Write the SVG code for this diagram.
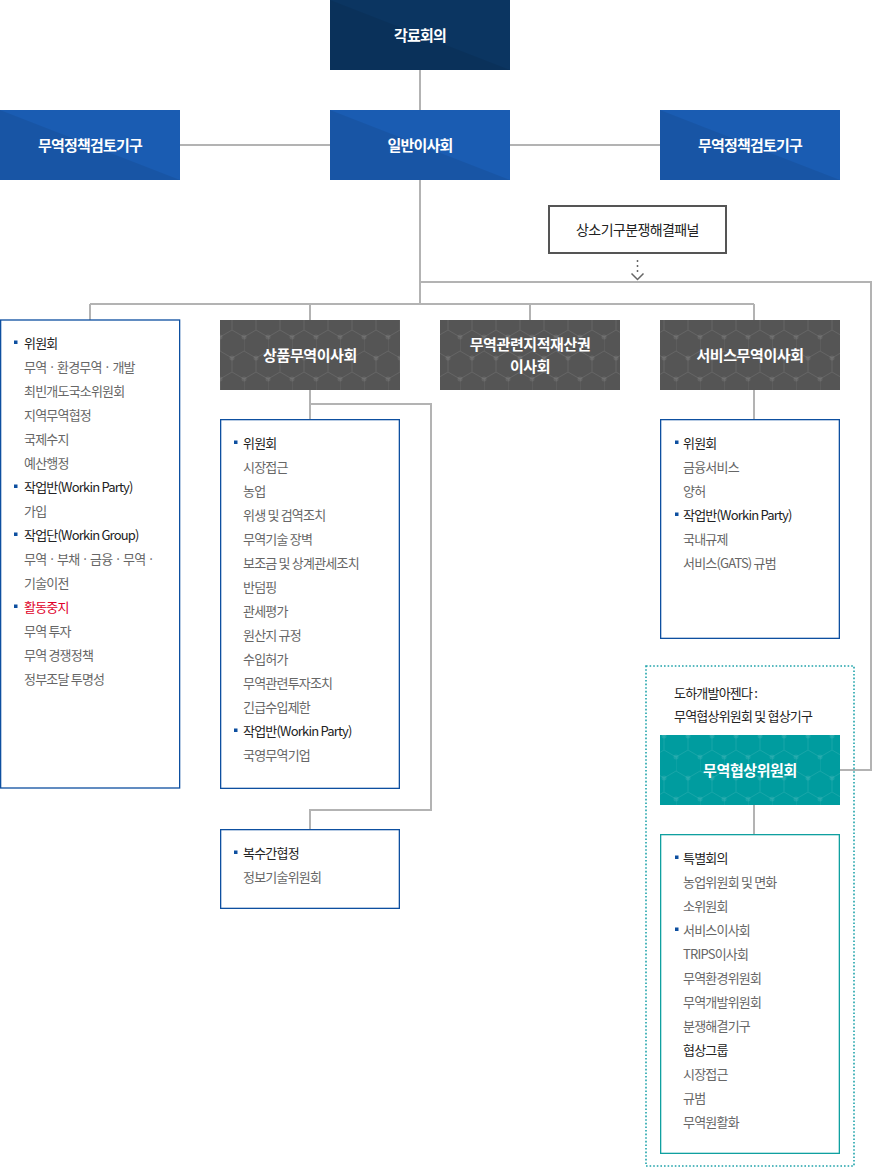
<svg xmlns="http://www.w3.org/2000/svg" width="872" height="1167" viewBox="0 0 872 1167">
<defs>
<pattern id="hex" width="24" height="42" patternUnits="userSpaceOnUse" x="4" y="-6">
<path d="M0,7 L12,0 L24,7 M0,7 V21 M0,21 L12,28 L24,21 M12,28 V42" fill="none" stroke="#ffffff" stroke-opacity="0.09" stroke-width="1"/>
<g fill="#ffffff" fill-opacity="0.09"><circle cx="0" cy="7" r="2.5"/><circle cx="12" cy="28" r="2.5"/><circle cx="24" cy="7" r="2.5"/></g>
</pattern>
<style>
.ln{fill:none;stroke:#b3b3b3;stroke-width:2}
.t{font-family:"Noto Sans CJK KR","Noto Sans",sans-serif;fill:#ffffff;font-size:15px;font-weight:700;text-anchor:middle;dominant-baseline:central;letter-spacing:-0.8px}
.it{font-family:"Noto Sans CJK KR","Noto Sans",sans-serif;font-size:13px;letter-spacing:-0.8px;dominant-baseline:central;fill:#666666}
.hd{fill:#222222}
.red{fill:#e0002a}
.blt{fill:#0d4fa0}
.lb{fill:#ffffff;stroke:#0d4fa0;stroke-width:1.3}
.tb{fill:#ffffff;stroke:#10a0a0;stroke-width:1.3}
.navy{fill:#0b3561}
.blue{fill:#1a5cb2}
.gray{fill:#555555}
.teal{fill:#009c9f}
.shade{fill:#000000;fill-opacity:0.07}
</style>
</defs>
<rect width="872" height="1167" fill="#ffffff"/>

<g id="connectors">
<path class="ln" d="M420,70 V110"/>
<path class="ln" d="M180,145 H330"/>
<path class="ln" d="M510,145 H660"/>
<path class="ln" d="M420,180 V304"/>
<path class="ln" d="M420,282 H871 V770 H840"/>
<path class="ln" d="M90,304 H754"/>
<path class="ln" d="M90,304 V320 M310,304 V320 M530,304 V320 M754,304 V320"/>
<path class="ln" d="M310,390 V419 M310,404 H431 V810 H310 V829"/>
<path class="ln" d="M754,390 V419"/>
<path class="ln" d="M754,805 V834"/>
<path d="M637.5,260 V273" fill="none" stroke="#666666" stroke-width="1.5" stroke-dasharray="2,3"/>
<path d="M631.5,273.5 L637.5,279.5 L643.5,273.5" fill="none" stroke="#666666" stroke-width="1.5"/>
</g>

<g id="n-ministerial">
<rect class="navy" x="330" y="0" width="180" height="70"/>
<polygon class="shade" points="330,0 510,70 330,70"/>
<text class="t" x="420" y="34.5">각료회의</text>
</g>

<g id="n-tprb-left">
<rect class="blue" x="0" y="110" width="180" height="70"/>
<polygon class="shade" points="0,110 180,180 0,180"/>
<text class="t" x="90" y="144.5">무역정책검토기구</text>
</g>

<g id="n-general-council">
<rect class="blue" x="330" y="110" width="180" height="70"/>
<polygon class="shade" points="330,110 510,180 330,180"/>
<text class="t" x="420" y="144.5">일반이사회</text>
</g>

<g id="n-tprb-right">
<rect class="blue" x="660" y="110" width="180" height="70"/>
<polygon class="shade" points="660,110 840,180 660,180"/>
<text class="t" x="750" y="144.5">무역정책검토기구</text>
</g>

<g id="n-appellate">
<rect x="549" y="206" width="177" height="47" fill="#ffffff" stroke="#555555" stroke-width="2"/>
<text class="t" x="637.5" y="229" style="fill:#222222;font-size:14px;font-weight:400;letter-spacing:-0.6px">상소기구분쟁해결패널</text>
</g>

<g id="n-left-list">
<rect class="lb" x="0.65" y="320" width="179" height="468"/>
<g class="blt"><rect x="14" y="340.5" width="3.5" height="3.5"/><rect x="14" y="484.5" width="3.5" height="3.5"/><rect x="14" y="532.5" width="3.5" height="3.5"/><rect x="14" y="604.5" width="3.5" height="3.5"/></g>
<text class="it hd" x="24" y="342">위원회</text>
<text class="it" x="24" y="366">무역 · 환경무역 · 개발</text>
<text class="it" x="24" y="390">최빈개도국소위원회</text>
<text class="it" x="24" y="414">지역무역협정</text>
<text class="it" x="24" y="438">국제수지</text>
<text class="it" x="24" y="462">예산행정</text>
<text class="it hd" x="24" y="486">작업반(Workin Party)</text>
<text class="it" x="24" y="510">가입</text>
<text class="it hd" x="24" y="534">작업단(Workin Group)</text>
<text class="it" x="24" y="558">무역 · 부채 · 금융 · 무역 ·</text>
<text class="it" x="24" y="582">기술이전</text>
<text class="it red" x="24" y="606">활동중지</text>
<text class="it" x="24" y="630">무역 투자</text>
<text class="it" x="24" y="654">무역 경쟁정책</text>
<text class="it" x="24" y="678">정부조달 투명성</text>
</g>

<g id="n-goods-council">
<rect class="gray" x="220" y="320" width="180" height="70"/>
<rect x="220" y="320" width="180" height="70" fill="url(#hex)"/>
<text class="t" x="310" y="354.5" style="letter-spacing:-0.4px">상품무역이사회</text>
</g>

<g id="n-trips-council">
<rect class="gray" x="440" y="320" width="180" height="70"/>
<rect x="440" y="320" width="180" height="70" fill="url(#hex)"/>
<text class="t" x="530" y="343" style="letter-spacing:-0.4px">무역관련지적재산권</text>
<text class="t" x="530" y="365" style="letter-spacing:-0.4px">이사회</text>
</g>

<g id="n-services-council">
<rect class="gray" x="660" y="320" width="180" height="70"/>
<rect x="660" y="320" width="180" height="70" fill="url(#hex)"/>
<text class="t" x="750" y="354.5" style="letter-spacing:-0.4px">서비스무역이사회</text>
</g>

<g id="n-goods-list">
<rect class="lb" x="220.65" y="419.65" width="178.7" height="368.7"/>
<g class="blt"><rect x="234" y="440.5" width="3.5" height="3.5"/><rect x="234" y="728.5" width="3.5" height="3.5"/></g>
<text class="it hd" x="243" y="442">위원회</text>
<text class="it" x="243" y="466">시장접근</text>
<text class="it" x="243" y="490">농업</text>
<text class="it" x="243" y="514">위생 및 검역조치</text>
<text class="it" x="243" y="538">무역기술 장벽</text>
<text class="it" x="243" y="562">보조금 및 상계관세조치</text>
<text class="it" x="243" y="586">반덤핑</text>
<text class="it" x="243" y="610">관세평가</text>
<text class="it" x="243" y="634">원산지 규정</text>
<text class="it" x="243" y="658">수입허가</text>
<text class="it" x="243" y="682">무역관련투자조치</text>
<text class="it" x="243" y="706">긴급수입제한</text>
<text class="it hd" x="243" y="730">작업반(Workin Party)</text>
<text class="it" x="243" y="754">국영무역기업</text>
</g>

<g id="n-plurilateral">
<rect class="lb" x="220.65" y="829.65" width="178.7" height="78.7"/>
<rect class="blt" x="234" y="850.5" width="3.5" height="3.5"/>
<text class="it hd" x="243" y="852">복수간협정</text>
<text class="it" x="243" y="876">정보기술위원회</text>
</g>

<g id="n-services-list">
<rect class="lb" x="660.65" y="419.65" width="178.7" height="218.7"/>
<g class="blt"><rect x="675" y="440.5" width="3.5" height="3.5"/><rect x="675" y="512.5" width="3.5" height="3.5"/></g>
<text class="it hd" x="683" y="442">위원회</text>
<text class="it" x="683" y="466">금융서비스</text>
<text class="it" x="683" y="490">양허</text>
<text class="it hd" x="683" y="514">작업반(Workin Party)</text>
<text class="it" x="683" y="538">국내규제</text>
<text class="it" x="683" y="562">서비스(GATS) 규범</text>
</g>

<g id="n-doha">
<rect x="646" y="666" width="208" height="500" fill="none" stroke="#20a3aa" stroke-width="1.6" stroke-dasharray="1.6,2"/>
<text class="it hd" x="674" y="692">도하개발아젠다 :</text>
<text class="it hd" x="674" y="715">무역협상위원회 및 협상기구</text>
</g>

<g id="n-tnc">
<rect class="teal" x="660" y="735" width="180" height="70"/>
<rect x="660" y="735" width="180" height="70" fill="url(#hex)"/>
<text class="t" x="750" y="769.5" style="letter-spacing:-0.4px">무역협상위원회</text>
</g>

<g id="n-tnc-list">
<rect class="tb" x="660.65" y="834.65" width="178.7" height="318.7"/>
<g class="blt"><rect x="675" y="855.5" width="3.5" height="3.5"/><rect x="675" y="927.5" width="3.5" height="3.5"/></g>
<text class="it hd" x="683" y="857">특별회의</text>
<text class="it" x="683" y="881">농업위원회 및 면화</text>
<text class="it" x="683" y="905">소위원회</text>
<text class="it" x="683" y="929">서비스이사회</text>
<text class="it" x="683" y="953">TRIPS이사회</text>
<text class="it" x="683" y="977">무역환경위원회</text>
<text class="it" x="683" y="1001">무역개발위원회</text>
<text class="it" x="683" y="1025">분쟁해결기구</text>
<text class="it hd" x="683" y="1049">협상그룹</text>
<text class="it" x="683" y="1073">시장접근</text>
<text class="it" x="683" y="1097">규범</text>
<text class="it" x="683" y="1121">무역원활화</text>
</g>
</svg>
